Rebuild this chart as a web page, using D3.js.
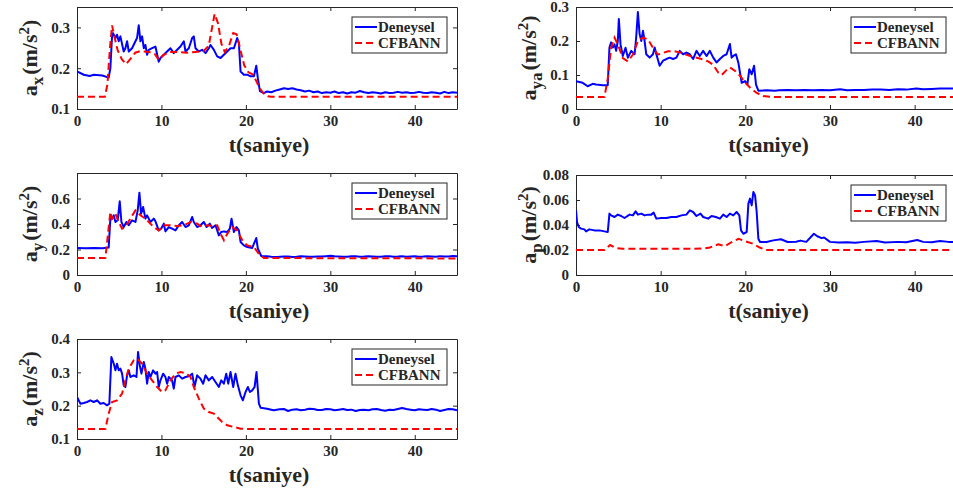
<!DOCTYPE html>
<html>
<head>
<meta charset="utf-8">
<script src="https://d3js.org/d3.v7.min.js"></script>
<style>
  body { margin: 0; background: #fff; }
</style>
</head>
<body>
<script>
// ---- data: [t (s), value] ----
var xTicks = [0, 10, 20, 30, 40];

var axDeneysel = [[0,0.192],[0.8,0.184],[1.5,0.181],[2,0.184],[3,0.182],[3.75,0.177],[3.95,0.2],[4.15,0.278],[4.27,0.286],[4.55,0.274],[4.74,0.282],[4.94,0.266],[5.14,0.278],[5.53,0.241],[5.73,0.249],[5.93,0.266],[6.13,0.241],[6.52,0.249],[6.92,0.266],[7.11,0.274],[7.31,0.305],[7.51,0.266],[7.71,0.278],[7.91,0.249],[8.1,0.257],[8.3,0.233],[8.5,0.245],[8.89,0.249],[9.29,0.253],[9.68,0.216],[9.88,0.225],[10.28,0.233],[10.67,0.241],[11.07,0.249],[11.46,0.237],[11.86,0.245],[12.25,0.253],[12.65,0.266],[12.85,0.241],[13.24,0.249],[13.64,0.274],[13.83,0.278],[14.03,0.249],[14.43,0.241],[14.82,0.245],[15.22,0.237],[15.61,0.249],[15.81,0.257],[16.21,0.245],[16.6,0.229],[17,0.225],[17.39,0.233],[17.79,0.241],[18.18,0.249],[18.58,0.249],[18.77,0.261],[18.97,0.274],[19.17,0.261],[19.37,0.192],[19.76,0.184],[20.16,0.184],[20.55,0.18],[20.95,0.18],[21.23,0.206],[21.42,0.175],[21.66,0.144],[22.13,0.139],[22.5,0.143],[23,0.141],[23.5,0.145],[24,0.148],[24.5,0.151],[25,0.149],[25.5,0.151],[26,0.148],[26.5,0.146],[27,0.143],[27.5,0.145],[28,0.141],[28.5,0.143],[29,0.139],[29.5,0.141],[30,0.14],[30.5,0.143],[31,0.139],[31.5,0.141],[32,0.138],[32.5,0.141],[33,0.14],[33.5,0.144],[34,0.141],[34.5,0.139],[35,0.141],[35.5,0.14],[36,0.138],[36.5,0.141],[37,0.139],[37.5,0.14],[38,0.142],[38.5,0.14],[39,0.141],[39.5,0.139],[40,0.14],[40.5,0.142],[41,0.14],[41.5,0.139],[42,0.141],[42.5,0.14],[43,0.138],[43.5,0.142],[44,0.139],[44.5,0.141],[45,0.14]];
var axCfbann = [[0,0.13],[3.3,0.13],[3.6,0.16],[3.9,0.25],[4.15,0.305],[4.4,0.28],[4.8,0.245],[5.3,0.222],[5.8,0.21],[6.3,0.222],[6.9,0.238],[7.5,0.242],[8.5,0.24],[9.2,0.235],[9.7,0.22],[10.2,0.232],[11,0.24],[12,0.24],[13,0.238],[14,0.24],[15,0.242],[15.6,0.255],[16.0,0.3],[16.3,0.333],[16.7,0.31],[17.1,0.26],[17.5,0.24],[18,0.255],[18.5,0.286],[18.9,0.283],[19.3,0.25],[19.8,0.207],[20.3,0.19],[20.8,0.185],[21.2,0.17],[21.6,0.152],[22.1,0.138],[22.6,0.131],[23,0.13],[45,0.13]];

var ayDeneysel = [[0,0.212],[1,0.21],[2,0.212],[3,0.21],[3.75,0.215],[3.95,0.442],[4.15,0.44],[4.35,0.468],[4.55,0.416],[4.82,0.429],[5.06,0.578],[5.26,0.416],[5.53,0.376],[5.85,0.416],[6.13,0.39],[6.52,0.429],[6.92,0.416],[7.19,0.507],[7.39,0.646],[7.59,0.481],[7.83,0.534],[8.1,0.442],[8.3,0.468],[8.7,0.416],[9.09,0.442],[9.29,0.421],[9.68,0.35],[9.96,0.363],[10.28,0.403],[10.47,0.342],[10.87,0.376],[11.26,0.363],[11.66,0.35],[12.06,0.39],[12.45,0.416],[12.85,0.376],[13.24,0.39],[13.64,0.455],[13.83,0.416],[14.23,0.376],[14.62,0.39],[15.02,0.416],[15.34,0.376],[15.73,0.403],[16,0.369],[16.4,0.39],[16.8,0.311],[17.07,0.337],[17.39,0.342],[17.79,0.337],[18.1,0.363],[18.3,0.442],[18.58,0.337],[18.89,0.376],[19.17,0.35],[19.37,0.259],[19.76,0.232],[20.16,0.219],[20.75,0.212],[21.23,0.29],[21.42,0.206],[21.82,0.149],[22.5,0.147],[23,0.143],[23.7,0.142],[24.5,0.146],[25,0.145],[25.5,0.142],[26,0.143],[26.5,0.147],[27,0.146],[27.5,0.143],[28,0.144],[28.5,0.146],[29,0.145],[29.5,0.148],[30,0.151],[30.5,0.147],[31,0.146],[31.5,0.143],[32,0.144],[32.5,0.147],[33,0.147],[33.5,0.144],[34,0.145],[34.5,0.148],[35,0.146],[35.5,0.143],[36,0.144],[36.5,0.147],[37,0.147],[37.5,0.144],[38,0.145],[38.5,0.147],[39,0.144],[39.5,0.146],[40,0.147],[40.5,0.144],[41,0.145],[41.5,0.148],[42,0.146],[42.5,0.144],[43,0.148],[43.5,0.146],[44,0.146],[44.5,0.149],[45,0.147]];
var ayCfbann = [[0,0.133],[3.36,0.133],[3.95,0.494],[4.15,0.442],[4.55,0.481],[4.94,0.416],[5.34,0.363],[5.73,0.376],[6.32,0.442],[6.92,0.507],[7.51,0.468],[8.1,0.442],[8.5,0.416],[9.09,0.376],[9.68,0.35],[10.28,0.39],[11.07,0.39],[11.86,0.385],[12.65,0.39],[13.44,0.416],[14.23,0.403],[14.82,0.376],[15.42,0.39],[16,0.385],[16.6,0.39],[17,0.324],[17.4,0.272],[17.8,0.324],[18.38,0.376],[18.97,0.35],[19.57,0.272],[20.16,0.232],[20.95,0.22],[21.54,0.164],[22.13,0.133],[45,0.13]];

var azDeneysel = [[0,0.226],[0.4,0.206],[0.8,0.208],[1.19,0.211],[1.58,0.216],[1.98,0.211],[2.37,0.216],[2.77,0.206],[3.16,0.208],[3.56,0.201],[3.83,0.206],[4.07,0.346],[4.35,0.326],[4.55,0.306],[4.74,0.326],[4.94,0.306],[5.14,0.311],[5.34,0.296],[5.53,0.261],[5.73,0.256],[5.93,0.291],[6.13,0.306],[6.32,0.286],[6.72,0.291],[7.04,0.286],[7.23,0.361],[7.43,0.321],[7.63,0.296],[7.91,0.331],[8.1,0.311],[8.3,0.266],[8.5,0.301],[8.7,0.286],[9.01,0.306],[9.29,0.296],[9.49,0.301],[9.68,0.256],[9.88,0.276],[10.2,0.296],[10.47,0.286],[10.67,0.266],[10.87,0.286],[11.26,0.276],[11.46,0.251],[11.66,0.286],[12.06,0.291],[12.45,0.281],[12.85,0.286],[13.24,0.288],[13.64,0.296],[13.91,0.256],[14.23,0.291],[14.62,0.281],[14.94,0.266],[15.22,0.291],[15.61,0.276],[16.01,0.286],[16.4,0.271],[16.8,0.256],[17.08,0.276],[17.39,0.266],[17.67,0.296],[17.91,0.266],[18.18,0.301],[18.5,0.256],[18.77,0.296],[19.05,0.261],[19.37,0.231],[19.64,0.216],[19.96,0.241],[20.24,0.256],[20.47,0.241],[20.75,0.246],[21.03,0.256],[21.26,0.301],[21.54,0.206],[21.74,0.194],[22.5,0.191],[23,0.188],[23.3,0.186],[24,0.189],[24.5,0.19],[25,0.184],[25.5,0.188],[26,0.189],[26.5,0.186],[27,0.188],[27.5,0.191],[28,0.19],[28.5,0.187],[29,0.187],[29.5,0.19],[30,0.189],[30.5,0.186],[31,0.188],[31.5,0.19],[32,0.187],[32.5,0.188],[33,0.184],[33.5,0.187],[34,0.188],[34.5,0.186],[35,0.189],[35.5,0.19],[36,0.187],[36.5,0.185],[37,0.188],[37.5,0.187],[38,0.19],[38.5,0.193],[39,0.19],[39.5,0.188],[40,0.186],[40.5,0.189],[41,0.188],[41.5,0.187],[42,0.19],[42.5,0.188],[43,0.184],[43.5,0.187],[44,0.19],[44.5,0.189],[45,0.186]];
var azCfbann = [[0,0.13],[3.36,0.13],[3.75,0.176],[4.15,0.211],[4.74,0.216],[5.34,0.236],[5.73,0.276],[6.13,0.311],[6.72,0.336],[7.11,0.341],[7.71,0.326],[8.3,0.296],[8.89,0.276],[9.49,0.256],[10.08,0.241],[10.47,0.246],[11.07,0.276],[11.66,0.296],[12.25,0.301],[12.85,0.298],[13.44,0.286],[13.83,0.256],[14.43,0.221],[15.02,0.191],[15.61,0.181],[16.21,0.176],[16.6,0.166],[17.19,0.151],[17.79,0.141],[18.58,0.136],[19.37,0.131],[20,0.13],[45,0.13]];

var ayaDeneysel = [[0,0.082],[0.79,0.077],[1.38,0.067],[1.98,0.074],[2.37,0.072],[3.16,0.07],[3.75,0.07],[3.95,0.181],[4.15,0.196],[4.35,0.181],[4.55,0.19],[4.74,0.171],[4.94,0.2],[5.06,0.265],[5.26,0.19],[5.53,0.156],[5.85,0.18],[6.13,0.151],[6.52,0.171],[6.92,0.161],[7.11,0.211],[7.31,0.285],[7.51,0.221],[7.71,0.2],[7.91,0.23],[8.1,0.2],[8.3,0.161],[8.7,0.151],[9.09,0.161],[9.29,0.181],[9.49,0.161],[9.88,0.127],[10.28,0.142],[10.67,0.147],[11.07,0.151],[11.46,0.147],[11.86,0.151],[12.25,0.171],[12.65,0.161],[13.04,0.166],[13.44,0.161],[13.83,0.147],[14.23,0.171],[14.62,0.156],[15.02,0.171],[15.42,0.156],[15.81,0.171],[16.21,0.151],[16.6,0.137],[17,0.147],[17.39,0.156],[17.79,0.161],[18.18,0.191],[18.38,0.151],[18.58,0.156],[18.89,0.161],[19.17,0.137],[19.37,0.107],[19.57,0.077],[19.96,0.082],[20.24,0.072],[20.47,0.117],[20.75,0.102],[21.03,0.127],[21.26,0.072],[21.54,0.054],[22.5,0.055],[23.5,0.054],[24,0.055],[25,0.056],[26,0.055],[27,0.056],[28,0.055],[29,0.056],[30,0.055],[31.2,0.058],[32,0.055],[33,0.056],[34,0.056],[35,0.057],[36,0.057],[37,0.056],[38,0.058],[39,0.057],[40.2,0.06],[41,0.058],[42,0.059],[43,0.06],[44,0.06],[45,0.061]];
var ayaCfbann = [[0,0.035],[3.36,0.035],[3.75,0.09],[4.15,0.18],[4.55,0.21],[4.94,0.19],[5.53,0.15],[6.13,0.14],[6.72,0.16],[7.31,0.2],[7.9,0.21],[8.5,0.205],[9.09,0.18],[9.68,0.16],[10.28,0.165],[10.87,0.17],[11.66,0.17],[12.45,0.165],[13.24,0.158],[14.03,0.152],[14.82,0.147],[15.61,0.14],[16.2,0.13],[16.8,0.107],[17.2,0.1],[17.8,0.115],[18.2,0.122],[18.8,0.112],[19.4,0.097],[20,0.077],[20.6,0.062],[21.3,0.048],[22.1,0.038],[23.3,0.035],[45,0.035]];

var apDeneysel = [[0,0.052],[0.12,0.0424],[0.32,0.0384],[0.59,0.0371],[0.99,0.0365],[1.19,0.0349],[1.58,0.0365],[2.17,0.0357],[2.77,0.0357],[3.36,0.0349],[3.75,0.0344],[3.95,0.0491],[4.15,0.0477],[4.55,0.0464],[4.94,0.0483],[5.34,0.0472],[5.73,0.0456],[6.32,0.0483],[6.72,0.0477],[7.04,0.0509],[7.31,0.0483],[7.71,0.0491],[8.1,0.0477],[8.5,0.0483],[8.89,0.0483],[9.17,0.0499],[9.49,0.0451],[10.08,0.0456],[10.67,0.0456],[11.26,0.0464],[11.86,0.0464],[12.45,0.0477],[13.04,0.0483],[13.44,0.0517],[13.83,0.0504],[14.23,0.0472],[14.7,0.0491],[15.02,0.0464],[15.61,0.0451],[16.01,0.0472],[16.52,0.0464],[17,0.0451],[17.39,0.0483],[17.79,0.0464],[18.18,0.0491],[18.58,0.0477],[18.97,0.0504],[19.29,0.0477],[19.49,0.0357],[19.76,0.033],[20.16,0.0344],[20.36,0.0571],[20.55,0.0611],[20.75,0.0557],[20.95,0.0664],[21.15,0.0637],[21.34,0.0504],[21.54,0.029],[21.74,0.0264],[22.5,0.0264],[23.3,0.0277],[24.2,0.0286],[25,0.0264],[26,0.0266],[26.5,0.0275],[27.2,0.0265],[28.1,0.033],[28.5,0.031],[29,0.0295],[29.3,0.03],[30,0.0265],[31,0.026],[32,0.0262],[33,0.0258],[34,0.0265],[35.5,0.0272],[36.5,0.026],[38,0.0265],[39,0.0262],[40.3,0.028],[41,0.0265],[42,0.0262],[43,0.0272],[44,0.0265],[45,0.0265]];
var apCfbann = [[0,0.02],[3.36,0.02],[4.03,0.024],[4.74,0.0216],[5.53,0.021],[7,0.021],[9,0.021],[11,0.021],[13,0.021],[15,0.0212],[15.8,0.022],[16.8,0.0245],[17.6,0.023],[18.3,0.026],[19.2,0.029],[20,0.027],[20.9,0.025],[21.7,0.022],[22.4,0.02],[45,0.02]];

var panels = [
  {sub: "x",  left: 77,  right: 457, top: 7,   bottom: 109, yDomain: [0.1, 0.35], yTicks: [0.1, 0.2, 0.3],             blue: axDeneysel,  red: axCfbann},
  {sub: "y",  left: 77,  right: 457, top: 173, bottom: 275, yDomain: [0, 0.8],    yTicks: [0, 0.2, 0.4, 0.6],         blue: ayDeneysel,  red: ayCfbann},
  {sub: "z",  left: 77,  right: 457, top: 339, bottom: 439, yDomain: [0.1, 0.4],  yTicks: [0.1, 0.2, 0.3, 0.4],       blue: azDeneysel,  red: azCfbann},
  {sub: "ya", left: 576, right: 957, top: 7,   bottom: 109, yDomain: [0, 0.3],    yTicks: [0, 0.1, 0.2, 0.3],         blue: ayaDeneysel, red: ayaCfbann},
  {sub: "p",  left: 576, right: 957, top: 175, bottom: 275, yDomain: [0, 0.08],   yTicks: [0, 0.02, 0.04, 0.06, 0.08], blue: apDeneysel,  red: apCfbann}
];

var FONT = "'Liberation Serif', 'Times New Roman', 'DejaVu Serif', serif";
var W = 953, H = 492;
var svg = d3.select("body").append("svg")
  .attr("width", W).attr("height", H)
  .attr("font-family", FONT)
  .attr("font-weight", "bold")
  .style("display", "block");
svg.append("rect").attr("width", W).attr("height", H).attr("fill", "#fff");

panels.forEach(function(p, i) {
  var x = d3.scaleLinear().domain([0, 45]).range([p.left, p.right]);
  var y = d3.scaleLinear().domain(p.yDomain).range([p.bottom, p.top]);
  var g = svg.append("g");

  // clip
  var cid = "clip" + i;
  svg.append("clipPath").attr("id", cid).append("rect")
    .attr("x", p.left).attr("y", p.top)
    .attr("width", p.right - p.left).attr("height", p.bottom - p.top);

  // axes with inward ticks on all four sides
  var fmt = function(d) { return String(d); };
  g.append("g").attr("transform", "translate(0," + p.bottom + ")")
    .call(d3.axisBottom(x).tickValues(xTicks).tickSize(-4).tickSizeOuter(0).tickPadding(6).tickFormat(fmt));
  g.append("g").attr("transform", "translate(0," + p.top + ")")
    .call(d3.axisTop(x).tickValues(xTicks).tickSize(-4).tickSizeOuter(0).tickFormat(""));
  g.append("g").attr("transform", "translate(" + p.left + ",0)")
    .call(d3.axisLeft(y).tickValues(p.yTicks).tickSize(-4).tickSizeOuter(0).tickPadding(7).tickFormat(fmt));
  g.append("g").attr("transform", "translate(" + p.right + ",0)")
    .call(d3.axisRight(y).tickValues(p.yTicks).tickSize(-4).tickSizeOuter(0).tickFormat(""));
  g.selectAll("g").attr("font-family", FONT).attr("font-size", 15);
  g.selectAll(".domain, .tick line").attr("stroke", "#262626").attr("stroke-width", 1);
  g.selectAll(".tick text").attr("fill", "#262626").attr("font-weight", "bold");

  // lines
  var line = d3.line().x(function(d) { return x(d[0]); }).y(function(d) { return y(d[1]); });
  var lines = svg.append("g").attr("clip-path", "url(#" + cid + ")");
  lines.append("path").datum(p.blue).attr("d", line)
    .attr("fill", "none").attr("stroke", "#0000ff").attr("stroke-width", 2).attr("stroke-linejoin", "round");
  lines.append("path").datum(p.red).attr("d", line)
    .attr("fill", "none").attr("stroke", "#ff0000").attr("stroke-width", 2).attr("stroke-dasharray", "7,4");

  // x title
  svg.append("text")
    .attr("x", (p.left + Math.min(p.right, 957)) / 2 + 2)
    .attr("y", p.bottom + 43)
    .attr("text-anchor", "middle")
    .attr("font-size", 22)
    .attr("fill", "#262626")
    .text("t(saniye)");

  // y title: a_sub (m/s^2)
  var ylab = svg.append("text")
    .attr("transform", "translate(" + (p.left - 40) + "," + ((p.top + p.bottom) / 2) + ") rotate(-90)")
    .attr("text-anchor", "middle")
    .attr("font-size", 22)
    .attr("fill", "#262626");
  ylab.append("tspan").text("a");
  ylab.append("tspan").attr("font-size", 17).attr("dy", 6).text(p.sub);
  ylab.append("tspan").attr("dy", -6).attr("dx", 2).text("(m/s");
  ylab.append("tspan").attr("font-size", 15).attr("dy", -8).text("2");
  ylab.append("tspan").attr("dy", 8).text(")");

  // legend
  var lx = p.left + 275, ly = p.top + 10;
  var leg = svg.append("g").attr("transform", "translate(" + lx + "," + ly + ")");
  leg.append("rect").attr("width", 95).attr("height", 36)
    .attr("fill", "#fff").attr("stroke", "#262626").attr("stroke-width", 1);
  var items = [["Deneysel", "#0000ff", null], ["CFBANN", "#ff0000", "7,4"]];
  items.forEach(function(it, k) {
    var cy = 10 + k * 16;
    leg.append("line").attr("x1", 3).attr("x2", 25).attr("y1", cy).attr("y2", cy)
      .attr("stroke", it[1]).attr("stroke-width", 2).attr("stroke-dasharray", it[2]);
    leg.append("text").attr("x", 26).attr("y", cy + 5).attr("font-size", 15)
      .attr("fill", "#262626").text(it[0]);
  });
});
</script>
</body>
</html>
